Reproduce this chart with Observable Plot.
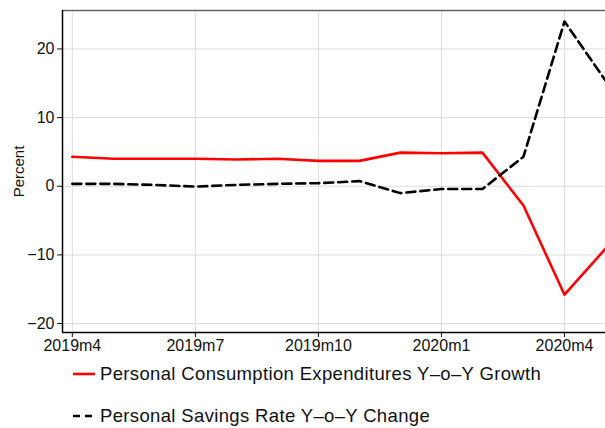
<!DOCTYPE html>
<html>
<head>
<meta charset="utf-8">
<script src="https://cdn.jsdelivr.net/npm/d3@7"></script>
<script src="https://cdn.jsdelivr.net/npm/@observablehq/plot@0.6"></script>
<style>
  html, body { margin: 0; padding: 0; background: #fff; }
  body { position: relative; width: 605px; height: 428px; overflow: hidden; font-family: "Liberation Sans", Arial, sans-serif; }
  .item { position: absolute; left: 73px; height: 22px; line-height: 22px; display: flex; align-items: center; font-size: 18.5px; letter-spacing: 0.35px; color: #111; white-space: nowrap; }
  .item svg { margin-right: 5px; }
</style>
</head>
<body>
<div id="chart"></div>
<div id="legend"></div>
<script>
const months = ["2019m4","2019m5","2019m6","2019m7","2019m8","2019m9","2019m10","2019m11","2019m12","2020m1","2020m2","2020m3","2020m4","2020m5"];
const pceGrowth = [4.3, 4.0, 4.0, 4.0, 3.9, 4.0, 3.7, 3.7, 4.9, 4.8, 4.9, -2.8, -15.8, -9.1];
const savingsChange = [0.35, 0.35, 0.2, -0.05, 0.2, 0.35, 0.45, 0.75, -1.0, -0.4, -0.4, 4.3, 24.0, 15.4];
const xTickLabels = ["2019m4","2019m7","2019m10","2020m1","2020m4"];
const yTicks = [-20, -10, 0, 10, 20];
const seriesNames = ["Personal Consumption Expenditures Y\u2013o\u2013Y Growth", "Personal Savings Rate Y\u2013o\u2013Y Change"];

const xDomain = [-0.24, 13];
const yDomain = [-21.3, 25.6];

const rows = months.map((m, i) => ({i, month: m, pce: pceGrowth[i], sav: savingsChange[i]}));
const xTickIdx = xTickLabels.map(l => months.indexOf(l));
const fmtY = d => d < 0 ? "\u2212" + Math.abs(d) : String(d);

const chart = Plot.plot({
  width: 605,
  height: 356,
  marginLeft: 62,
  marginRight: 0,
  marginTop: 10,
  marginBottom: 24,
  style: {fontFamily: "Liberation Sans, Arial, sans-serif", fontSize: "16px", color: "#111", background: "#fff"},
  x: {domain: xDomain, ticks: xTickIdx, tickFormat: i => months[i]},
  y: {domain: yDomain, ticks: yTicks, tickFormat: fmtY},
  marks: [
    Plot.gridY(yTicks, {stroke: "#dcdcdc", strokeOpacity: 1, strokeWidth: 1}),
    Plot.gridX(xTickIdx, {stroke: "#dcdcdc", strokeOpacity: 1, strokeWidth: 1}),
    Plot.ruleY([yDomain[1]], {stroke: "#666", strokeWidth: 1.5}),
    Plot.ruleX([xDomain[0]], {stroke: "#000", strokeWidth: 1.5}),
    Plot.ruleY([yDomain[0]], {stroke: "#000", strokeWidth: 1.5}),
    Plot.axisY(yTicks, {tickSize: 5, tickPadding: 3, tickFormat: fmtY, fontSize: 16, label: null}),
    Plot.axisX(xTickIdx, {tickSize: 5, tickPadding: 2, tickFormat: i => months[i], fontSize: 16, label: null}),
    Plot.text(["Percent"], {frameAnchor: "left", textAnchor: "middle", dx: -43, rotate: -90, fontSize: 15, fill: "#111"}),
    Plot.line(rows, {x: "i", y: "pce", stroke: "#ff0000", strokeWidth: 2.6}),
    Plot.line(rows, {x: "i", y: "sav", stroke: "#000", strokeWidth: 2.6, strokeDasharray: "9,5"})
  ]
});
document.getElementById("chart").appendChild(chart);

const legend = document.getElementById("legend");
const styles = [{color: "#ff0000", dash: null}, {color: "#000", dash: "7,5"}];
const centers = [374, 416];
seriesNames.forEach((name, k) => {
  const div = document.createElement("div");
  div.className = "item";
  div.style.top = (centers[k] - 11) + "px";
  div.innerHTML = `<svg width="22" height="6"><line x1="0" x2="22" y1="3" y2="3" stroke="${styles[k].color}" stroke-width="2.6" ${styles[k].dash ? `stroke-dasharray="${styles[k].dash}"` : ""}/></svg><span>${name}</span>`;
  legend.appendChild(div);
});
</script>
</body>
</html>
